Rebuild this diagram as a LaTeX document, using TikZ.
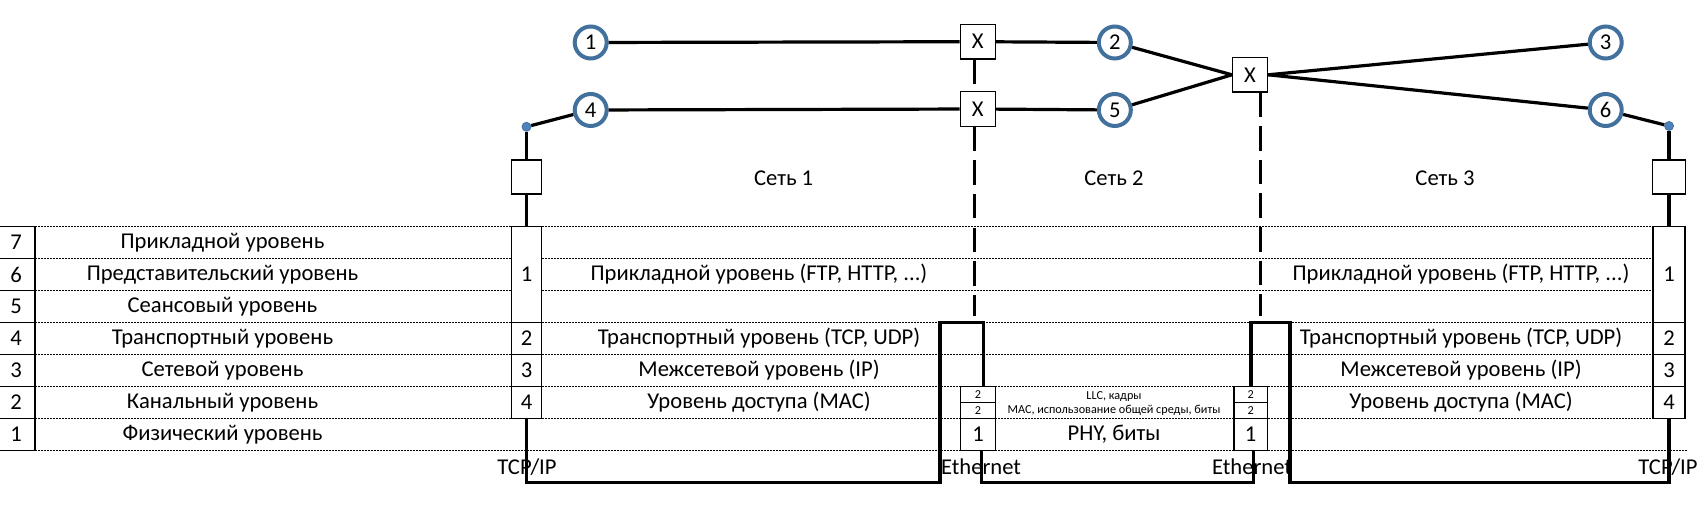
\documentclass[tikz,border=0pt]{standalone}
\usepackage{fontspec}
\setmainfont{Carlito}
\definecolor{ringblue}{RGB}{65,113,156}
\definecolor{dotblue}{RGB}{79,129,189}
\begin{document}
\begin{tikzpicture}[x=0.5pt,y=-0.5pt,
  every node/.style={font=\fontsize{11.3}{13}\selectfont, inner sep=0pt},
  wire/.style={line width=1.6pt},
  dashwire/.style={line width=1.5pt, dash pattern=on 12.2pt off 4.6pt},
  gridline/.style={line width=0.5pt, dash pattern=on 0.8pt off 0.7pt},
  solidline/.style={line width=0.6pt},
  cell/.style={draw, line width=0.6pt, fill=white, inner sep=0pt},
  xbox/.style={cell, minimum width=17.5pt, minimum height=17.3pt},
  station/.style={circle, draw=ringblue, line width=2pt, fill=white, minimum size=16pt, inner sep=0pt},
  joint/.style={circle, fill=dotblue, draw=ringblue, line width=0.4pt, minimum size=4.5pt, inner sep=0pt},
  tiny/.style={font=\fontsize{6.1}{7}\selectfont},
]
\useasboundingbox (0,0) rectangle (1706,513);

% table grid
\foreach \k in {0,...,6} \draw[gridline] (35,{226.5+32*\k}) -- (1653,{226.5+32*\k});
\draw[gridline] (35,450.5) -- (1687,450.5);
\foreach \k in {0,...,7} \draw[solidline] (0,{226.5+32*\k}) -- (35,{226.5+32*\k});
\draw[solidline] (35,226.5) -- (35,450.5);

% OSI layers
\foreach \n/\t [count=\i from 0] in {7/Прикладной уровень,6/Представительский уровень,5/Сеансовый уровень,4/Транспортный уровень,3/Сетевой уровень,2/Канальный уровень,1/Физический уровень}{
  \node (num\n) at (16,{242.5+32*\i}) {\n};
  \node (osi\n) at (222.5,{242.5+32*\i}) {\t};
}

% TCP/IP stacks
\node[cell, minimum width=15pt, minimum height=48pt] (tl1) at (526.5,274.5) {1};
\node[cell, minimum width=15pt, minimum height=16pt] (tl2) at (526.5,338.5) {2};
\node[cell, minimum width=15pt, minimum height=16pt] (tl3) at (526.5,370.5) {3};
\node[cell, minimum width=15pt, minimum height=16pt] (tl4) at (526.5,402.5) {4};
\node[cell, minimum width=16pt, minimum height=48pt] (tr1) at (1669,274.5) {1};
\node[cell, minimum width=16pt, minimum height=16pt] (tr2) at (1669,338.5) {2};
\node[cell, minimum width=16pt, minimum height=16pt] (tr3) at (1669,370.5) {3};
\node[cell, minimum width=16pt, minimum height=16pt] (tr4) at (1669,402.5) {4};

% Ethernet stacks
\node[cell, tiny, minimum width=17.3pt, minimum height=8pt] (el2a) at (978,394.5) {2};
\node[cell, tiny, minimum width=17.3pt, minimum height=8pt] (el2b) at (978,410.5) {2};
\node[cell, minimum width=17.3pt, minimum height=16pt] (el1) at (978,434.5) {1};
\node[cell, tiny, minimum width=16.7pt, minimum height=8pt] (er2a) at (1250.6,394.5) {2};
\node[cell, tiny, minimum width=16.7pt, minimum height=8pt] (er2b) at (1250.6,410.5) {2};
\node[cell, minimum width=16.7pt, minimum height=16pt] (er1) at (1250.6,434.5) {1};

% layer texts
\node (apl) at (759,274.5) {Прикладной уровень (FTP, HTTP, ...)};
\node (trl) at (759,338.5) {Транспортный уровень (TCP, UDP)};
\node (ipl) at (759,370.5) {Межсетевой уровень (IP)};
\node (macl) at (759,402.5) {Уровень доступа (MAC)};
\node (apr) at (1461,274.5) {Прикладной уровень (FTP, HTTP, ...)};
\node (trr) at (1461,338.5) {Транспортный уровень (TCP, UDP)};
\node (ipr) at (1461,370.5) {Межсетевой уровень (IP)};
\node (macr) at (1461,402.5) {Уровень доступа (MAC)};
\node[tiny] (llc) at (1114,396.5) {LLC, кадры};
\node[tiny] (macm) at (1114,410) {MAC, использование общей среды, биты};
\node (phy) at (1114,434.5) {PHY, биты};

% bottom labels
\node (tcpl) at (527,467) {TCP/IP};
\node (ethl) at (981,467) {Ethernet};
\node (ethr) at (1252,467) {Ethernet};
\node (tcpr) at (1668,467) {TCP/IP};

% network names
\node (net1) at (783.6,178) {Сеть 1};
\node (net2) at (1114,178) {Сеть 2};
\node (net3) at (1445,178) {Сеть 3};

% thick stack connections
\coordinate (ja) at (940,482.7);
\coordinate (jb) at (983.3,322.5);
\coordinate (jc) at (981.7,482.7);
\coordinate (jd) at (1253.3,482.7);
\coordinate (je) at (1251,322.5);
\coordinate (jf) at (1290,482.7);
\draw[wire] (tl4.south) |- (ja) |- (jb) -- (jb |- el2a.north);
\draw[wire] (jc |- el1.south) -- (jc) -- (jd) -- (jd |- er1.south);
\draw[wire] (je |- er2a.north) -- (je) -| (jf) -| (tr4.south);

% top network
\node[station] (c1) at (590.7,42.5) {1};
\node[station] (c2) at (1114.8,42.5) {2};
\node[station] (c3) at (1605.7,42.5) {3};
\node[station] (c4) at (590.7,110) {4};
\node[station] (c5) at (1114.8,110) {5};
\node[station] (c6) at (1605.7,110) {6};
\node[xbox] (xa) at (977.7,41.7) {X};
\node[xbox] (xb) at (977.7,109) {X};
\node[xbox] (xc) at (1250,74.8) {X};
\node[joint] (dl) at (526.5,126.8) {};
\node[joint] (dr) at (1669,126) {};
\node[cell, minimum width=15.2pt, minimum height=17pt] (rl) at (526.5,177) {};
\node[cell, minimum width=16.3pt, minimum height=17pt] (rr) at (1669,177) {};

\draw[wire] (c1) -- (xa);
\draw[wire] (xa) -- (c2);
\draw[wire] (c4) -- (xb);
\draw[wire] (xb) -- (c5);
\draw[wire] (c2) -- (xc.west);
\draw[wire] (c5) -- (xc.west);
\draw[wire] (xc.east) -- (c3);
\draw[wire] (xc.east) -- (c6);
\draw[wire] (c4) -- (dl);
\draw[wire] (c6) -- (dr);
\draw[wire] (dl) -- (rl);
\draw[wire] (rl) -- (tl1);
\draw[wire] (dr) -- (rr);
\draw[wire] (rr) -- (tr1);

% dashed links down from switches
\coordinate (da) at (974,316);
\coordinate (db) at (1260,316);
\draw[dashwire] (da |- xa.south) -- (da |- xb.north);
\draw[dashwire] (da |- xb.south) -- (da);
\draw[dashwire] (db |- xc.south) -- (db);
\end{tikzpicture}
\end{document}
